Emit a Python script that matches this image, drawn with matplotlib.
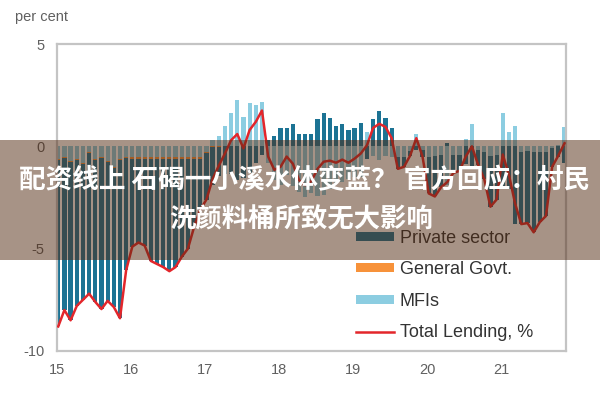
import matplotlib
matplotlib.use("Agg")
import matplotlib.pyplot as plt
from matplotlib.patches import Rectangle, Patch
from matplotlib.lines import Line2D
import numpy as np

# Monthly data, Jan 2015 .. Nov 2021 (per cent)
total_lending = [
    -8.8, -8.0, -8.5, -7.8, -7.5, -7.2, -7.6, -7.95, -7.55, -7.85, -8.4, -6.05,
    -4.9, -4.7, -4.85, -5.6, -5.75, -5.9, -6.1, -5.9, -5.4, -5.0, -3.95, -3.1,
    -2.6, -1.6, -0.95, -0.35, 0.3, 0.6, -0.1, 0.8, 1.2, 1.75, -0.5, -1.15,
    -1.0, -0.5, -0.85, -1.65, -1.9, -1.7, -1.1, -0.75, -0.7, -0.8, -0.65, -0.8,
    -0.6, -0.35, 0.05, 0.9, 1.1, 0.95, 0.4, -1.1, -1.0, -0.45, 0.4, -0.5,
    -2.3, -2.45, -2.0, -1.75, -1.3, -1.2, -0.5, 0.0, -0.9, -1.6, -2.95, -2.6,
    -0.4, -1.4, -2.8, -3.8, -3.75, -4.2, -3.7, -3.4, -1.0, -0.45, 0.15,
]
mfis = [
    -0.6, -0.5, -0.7, -0.6, -0.8, -0.3, -0.6, -0.5, -0.7, -1.0, -0.6, -0.5,
    -0.5, -0.5, -0.5, -0.5, -0.5, -0.5, -0.5, -0.5, -0.5, -0.5, -0.5, -0.5,
    -0.3, 0.3, 0.5, 1.0, 1.65, 2.25, 1.45, 2.1, 2.0, 2.15, -0.8, -1.65,
    -1.9, -1.4, -1.95, -2.25, -2.5, -2.3, -2.45, -2.4, -2.1, -1.8, -1.75, -1.6,
    -1.5, -1.5, 0.7, -0.45, -0.65, -0.45, -0.5, -0.5, -0.5, -0.25, 0.6, -0.2,
    -0.5, -0.45, -0.4, -1.9, -0.4, -0.4, 0.35, 1.1, -0.2, -0.3, -0.45, -0.4,
    1.65, 0.7, 1.0, -0.3, -0.25, -0.3, -0.3, -0.3, -0.1, 0.05, 0.95,
]
general_govt = [
    -0.05, -0.05, -0.05, -0.05, -0.05, -0.05, -0.05, -0.05, -0.05, -0.05, -0.05, -0.05,
    -0.1, -0.1, -0.1, -0.1, -0.1, -0.1, -0.1, -0.1, -0.1, -0.1, -0.1, -0.1,
    -0.05, -0.05, -0.05, 0.0, 0.0, 0.0, 0.0, 0.0, 0.0, 0.0, 0.0, 0.0,
    0.0, 0.0, 0.0, 0.0, 0.0, 0.0, 0.0, 0.0, 0.0, 0.0, 0.0, 0.0,
    0.0, 0.0, 0.0, 0.0, 0.0, 0.0, 0.0, 0.0, 0.0, 0.0, 0.0, 0.0,
    0.0, 0.0, 0.0, 0.0, 0.0, 0.0, 0.0, 0.0, 0.0, 0.0, 0.0, 0.0,
    0.0, 0.0, 0.0, 0.0, 0.0, 0.0, 0.0, 0.0, 0.0, 0.0, 0.0,
]
private_sector = [
    -8.15, -7.45, -7.75, -7.15, -6.65, -6.85, -6.95, -7.4, -6.8, -6.8, -7.75, -5.5,
    -4.3, -4.1, -4.25, -5.0, -5.15, -5.3, -5.5, -5.3, -4.8, -4.4, -3.35, -2.5,
    -2.25, -1.85, -1.4, -1.35, -1.35, -1.65, -1.55, -1.3, -0.8, -0.4, 0.3, 0.5,
    0.9, 0.9, 1.1, 0.6, 0.6, 0.6, 1.35, 1.65, 1.4, 1.0, 1.1, 0.8,
    0.9, 1.15, -0.6, 1.35, 1.75, 1.4, 0.9, -0.6, -0.5, -0.2, -0.2, -0.3,
    -1.8, -2.0, -1.6, 0.15, -0.9, -0.8, -0.85, -1.1, -0.7, -1.3, -2.5, -2.2,
    -2.05, -2.1, -3.8, -3.5, -3.5, -3.9, -3.4, -3.1, -0.9, -0.5, -0.8,
]
year_ticks = [15, 16, 17, 18, 19, 20, 21]
y_ticks = [5, 0, -5, -10]
y_tick_labels = ["5", "0", "-5", "-10"]
series_labels = ["Private sector", "General Govt.", "MFIs", "Total Lending, %"]
title_line1 = "配资线上 石碣一小溪水体变蓝？ 官方回应：村民"
title_line2 = "洗颜料桶所致无大影响"

C_PRIV = "#1c7394"
C_GOV = "#f7923a"
C_MFI = "#8ccde1"
C_TOT = "#e3262b"
C_GRID = "#c4c4c4"
C_TXT = "#606060"

n = len(total_lending)
x = 15 + (np.arange(n) + 0.2) / 12.0
w = 0.68 / 12.0

plt.rcParams['font.family'] = ['Liberation Sans', 'DejaVu Sans']
fig = plt.figure(figsize=(6, 4), dpi=100)
ax = fig.add_axes([57/600, 1-351/400, (566-57)/600, (351-44)/400])

pos_base = np.zeros(n)
neg_base = np.zeros(n)
for vals, col in [(mfis, C_MFI), (general_govt, C_GOV), (private_sector, C_PRIV)]:
    v = np.array(vals, dtype=float)
    bottoms = np.where(v >= 0, pos_base, neg_base)
    ax.bar(x, v, width=w, bottom=bottoms, color=col, linewidth=0, zorder=2)
    pos_base = pos_base + np.where(v >= 0, v, 0)
    neg_base = neg_base + np.where(v < 0, v, 0)

ax.plot(x, total_lending, color=C_TOT, lw=1.8, zorder=3)

ax.set_xlim(15, 21.87)
ax.set_ylim(-10, 5)
ax.set_xticks(year_ticks)
ax.set_xticklabels([str(t) for t in year_ticks])
ax.set_yticks(y_ticks)
ax.set_yticklabels(y_tick_labels)
ax.tick_params(length=0, pad=9, labelsize=10.5, labelcolor=C_TXT)
for s in ax.spines.values():
    s.set_color(C_GRID)
    s.set_linewidth(1.6)

handles = [
    Patch(facecolor=C_PRIV, edgecolor='none'),
    Patch(facecolor=C_GOV, edgecolor='none'),
    Patch(facecolor=C_MFI, edgecolor='none'),
    Line2D([0], [0], color=C_TOT, lw=1.8),
]
leg = ax.legend(handles, series_labels, loc='upper left', bbox_to_anchor=(0.588, 0.395),
                frameon=False, fontsize=13, handlelength=2.1, handleheight=0.42,
                handletextpad=0.3, labelspacing=0.8, borderpad=0, borderaxespad=0)
for t in leg.get_texts():
    t.set_color("#333333")

fig.text(15/600, 1-17/400, "per cent", fontsize=10.5, color=C_TXT, va='center', ha='left')

banner = Rectangle((0, 1-260/400), 1, 120/400, transform=fig.transFigure,
                   facecolor=(80/255, 40/255, 15/255), alpha=0.5, edgecolor='none', zorder=10)
fig.patches.append(banner)
cjk = ['Noto Sans CJK SC', 'DejaVu Sans']
fig.text(0.507, 1-181/400, title_line1, ha='center', va='center', color='white',
         fontsize=19.2, fontweight='bold', family=cjk, zorder=11)
fig.text(0.502, 1-220/400, title_line2, ha='center', va='center', color='white',
         fontsize=19, fontweight='bold', family=cjk, zorder=11)

fig.savefig("out.png", dpi=100)
